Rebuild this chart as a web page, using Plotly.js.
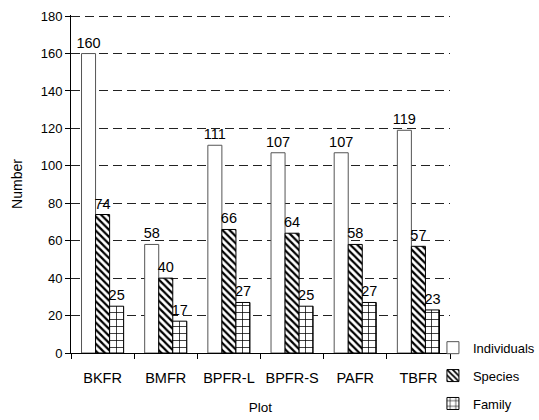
<!DOCTYPE html>
<html>
<head>
<meta charset="utf-8">
<script src="https://cdn.plot.ly/plotly-3.0.1.min.js"></script>
<style>
  html, body { margin: 0; padding: 0; background: #fff; }
  #chart { width: 539px; height: 420px; }
</style>
</head>
<body>
<div id="chart"></div>
<script>
// Plots surveyed and the counts recorded in each
const plots = ["BKFR", "BMFR", "BPFR-L", "BPFR-S", "PAFR", "TBFR"];
const individuals = [160, 58, 111, 107, 107, 119];
const species = [74, 40, 66, 64, 58, 57];
const families = [25, 17, 27, 25, 27, 23];

const FAMILY = "Liberation Sans, Arial, sans-serif";
const valueFont = { family: FAMILY, size: 14.5, color: "#000" };

function barTrace(name, values, fill, group) {
  return {
    type: "bar",
    name: name,
    x: plots,
    y: values,
    text: values.map(String),
    textposition: "outside",
    constraintext: "none",
    cliponaxis: false,
    textfont: valueFont,
    legendgroup: group,
    marker: fill
  };
}

const traces = [
  barTrace("Individuals", individuals, {
    color: "#ffffff",
    line: { color: "#555", width: 1 }
  }, "g1"),
  barTrace("Species", species, {
    color: "#ffffff",
    line: { color: "#000", width: 1 },
    pattern: { shape: "\\", fgcolor: "#000", bgcolor: "#fff", size: 5, solidity: 0.45 }
  }, "g2"),
  barTrace("Family", families, {
    color: "#ffffff",
    line: { color: "#000", width: 1 },
    pattern: { shape: "+", fgcolor: "#000", bgcolor: "#fff", size: 7, solidity: 0.2 }
  }, "g3")
];

const layout = {
  width: 539,
  height: 420,
  margin: { l: 71, r: 89, t: 15, b: 67, autoexpand: false },
  paper_bgcolor: "#fff",
  plot_bgcolor: "#fff",
  font: { family: FAMILY, size: 13, color: "#000" },
  barmode: "group",
  bargap: 0.333,
  bargroupgap: 0,
  showlegend: true,
  legend: {
    x: 0.955, xanchor: "left",
    y: 0.06, yanchor: "top",
    font: { family: FAMILY, size: 13, color: "#000" },
    traceorder: "grouped",
    tracegroupgap: 8,
    bgcolor: "rgba(0,0,0,0)",
    itemwidth: 30
  },
  xaxis: {
    title: { text: "Plot", font: { family: FAMILY, size: 13.5, color: "#000" }, standoff: 17 },
    showline: true, linecolor: "#000", linewidth: 1,
    ticks: "outside", tickson: "boundaries", ticklen: 5, tickcolor: "#000",
    ticklabelstandoff: 12,
    tickfont: { family: FAMILY, size: 14.5, color: "#000" },
    showgrid: false
  },
  yaxis: {
    title: { text: "Number", font: { family: FAMILY, size: 14, color: "#000" }, standoff: 14 },
    range: [0, 180.6],
    tickvals: [0, 20, 40, 60, 80, 100, 120, 140, 160, 180],
    showline: true, linecolor: "#000", linewidth: 1,
    ticks: "outside", ticklen: 5, tickcolor: "#000",
    tickfont: { family: FAMILY, size: 13, color: "#000" },
    showgrid: true, gridcolor: "#222", gridwidth: 1, griddash: "9px,5px",
    zeroline: false
  }
};

Plotly.newPlot("chart", traces, layout, { displayModeBar: false, staticPlot: true });
</script>
</body>
</html>
